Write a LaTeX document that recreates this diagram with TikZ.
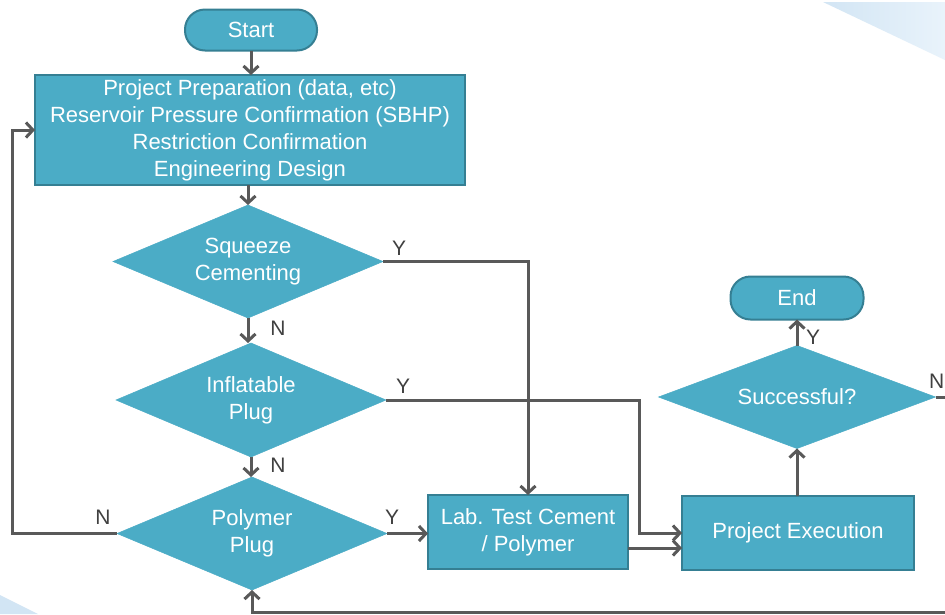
\documentclass[tikz,border=0pt]{standalone}
\usepackage{fontspec}
\setmainfont{Liberation Sans}
\usetikzlibrary{shapes.geometric,arrows.meta}
\definecolor{nodefill}{HTML}{4BACC6}
\definecolor{nodeedge}{HTML}{357F93}
\definecolor{linegray}{HTML}{595959}
\definecolor{labgray}{HTML}{404040}
\definecolor{decoA}{HTML}{D2E5F4}
\definecolor{decoB}{HTML}{E9F3FB}
\tikzset{
  base/.style={fill=nodefill, text=white, align=center, inner sep=0pt, outer sep=0pt,
    font=\fontsize{22}{27}\selectfont},
  term/.style={base, draw=nodeedge, line width=2pt, rounded corners=20pt},
  procbox/.style={base, draw=nodeedge, line width=2pt},
  decision/.style={base, diamond, aspect=2.4, draw=nodefill, line width=0.5pt},
  conn/.style={draw=linegray, line width=3pt, -{Straight Barb[length=7pt,width=15pt]}},
  lbl/.style={text=labgray, font=\fontsize{21}{24}\selectfont, inner sep=0pt}
}
\begin{document}
\begin{tikzpicture}[x=1pt,y=-1pt]
\useasboundingbox (0,0) rectangle (945,614);
\clip (0,0) rectangle (945,614);
\fill[white] (0,0) rectangle (945,614);
% decorative corners
\shade[left color=decoA, right color=decoB] (823,2) -- (945,2) -- (945,60) -- cycle;
\fill[decoA] (0,595) -- (38,614) -- (0,614) -- cycle;
% nodes
\node[term, minimum width=132pt, minimum height=41pt] (start) at (251,30) {Start};
\node[procbox, minimum width=430pt, minimum height=110pt] (proc) at (250,130)
  {Project Preparation (data, etc)\\Reservoir Pressure Confirmation (SBHP)\\Restriction Confirmation\\Engineering Design};
\node[decision, minimum width=270pt, minimum height=113pt] (sq) at (248,261.5) {Squeeze\\Cementing};
\node[decision, minimum width=270pt, minimum height=114pt] (inf) at (251,400) {Inflatable\\Plug};
\node[decision, minimum width=270pt, minimum height=113pt] (pol) at (252,533.5) {Polymer\\Plug};
\node[procbox, minimum width=200pt, minimum height=74pt] (lab) at (528,532) {Lab. Test Cement\\/ Polymer};
\node[procbox, minimum width=232pt, minimum height=74pt] (pe) at (798,533) {Project Execution};
\node[decision, minimum width=277pt, minimum height=103pt] (suc) at (797,397) {Successful?};
\node[term, minimum width=133pt, minimum height=43pt] (end) at (797,298) {End};
% helper coordinates
\coordinate (c1) at (639,0);
\coordinate (c2) at (0,548);
\coordinate (c3) at (12,0);
\coordinate (c4) at (965,612);
% connectors
\draw[conn] (start.south) -- (start.south |- proc.north);
\draw[conn] (proc.south -| sq.north) -- (sq.north);
\draw[conn] (sq.east) -- (sq.east -| lab.north) -- (lab.north);
\draw[conn] (sq.south) -- (inf.north -| sq.south);
\draw[conn] (inf.east) -- (inf.east -| c1) -- (c1 |- pe.west) -- (pe.west);
\draw[conn] (inf.south) -- (pol.north -| inf.south);
\draw[conn] (pol.west) -- (pol.west -| c3) -- (c3 |- proc.west) -- (proc.west);
\draw[conn] (pol.east) -- (lab.west |- pol.east);
\draw[conn] (lab.east |- c2) -- (pe.west |- c2);
\draw[conn] (pe.north -| suc.south) -- (suc.south);
\draw[conn] (suc.north) -- (end.south -| suc.north);
\draw[conn] (suc.east) -- (suc.east -| c4) -- (c4) -- (c4 -| pol.south) -- (pol.south);
% labels
\node[lbl] (y1) at (399,248) {Y};
\node[lbl] (n1) at (278,328) {N};
\node[lbl] (y2) at (403,386) {Y};
\node[lbl] (n2) at (278,465) {N};
\node[lbl] (n3) at (103,517) {N};
\node[lbl] (y3) at (392,517) {Y};
\node[lbl] (y4) at (813,337) {Y};
\node[lbl, anchor=west] (n4) at (929,381) {N};
\end{tikzpicture}
\end{document}
